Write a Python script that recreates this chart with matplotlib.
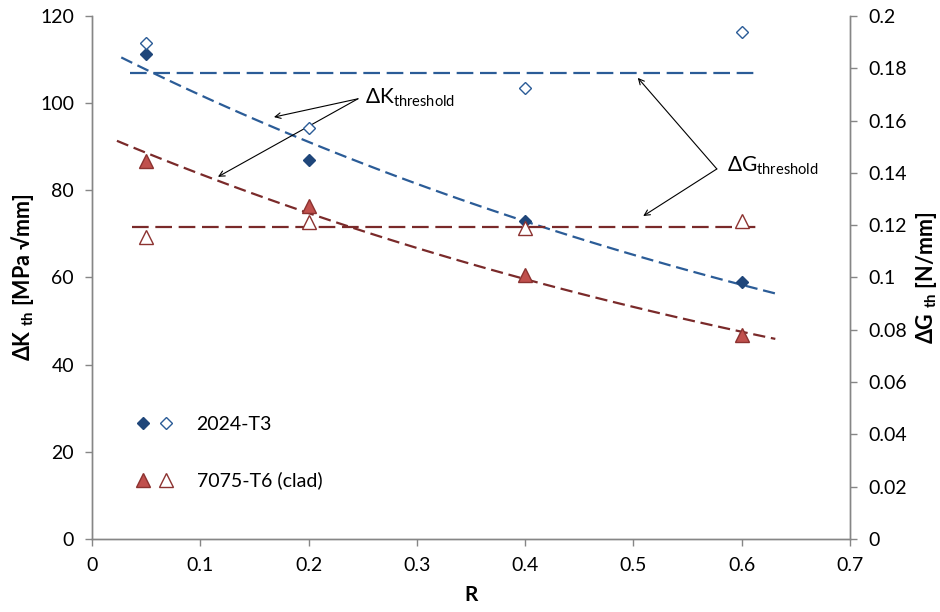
import numpy as np
import matplotlib
matplotlib.use('Agg')
import matplotlib.pyplot as plt
from matplotlib.lines import Line2D
from matplotlib.legend_handler import HandlerTuple
from matplotlib.ticker import FuncFormatter

plt.rcParams['font.family'] = ['Lato', 'DejaVu Sans']
plt.rcParams['mathtext.fontset'] = 'custom'
plt.rcParams['mathtext.rm'] = 'Lato'
plt.rcParams['mathtext.bf'] = 'Lato:bold'
plt.rcParams['mathtext.it'] = 'Lato:italic'

# --- data ---
R = [0.05, 0.2, 0.4, 0.6]
dK_2024 = [111.3, 87.0, 73.0, 59.0]          # filled diamonds, left axis
dG_2024 = [0.1897, 0.157, 0.1725, 0.1937]    # open diamonds, right axis
dK_7075 = [86.8, 76.3, 60.6, 46.8]           # filled triangles, left axis
dG_7075 = [0.1156, 0.1213, 0.1188, 0.1217]   # open triangles, right axis

x_ticks = [0, 0.1, 0.2, 0.3, 0.4, 0.5, 0.6, 0.7]
k_ticks = [0, 20, 40, 60, 80, 100, 120]
g_ticks = [0, 0.02, 0.04, 0.06, 0.08, 0.1, 0.12, 0.14, 0.16, 0.18, 0.2]

# colours
blue_fill = '#1F467A'
blue_line = '#2B5C97'
red_fill = '#C0504D'
red_edge = '#8C3230'
red_line = '#7A2A2A'
grey = '#868686'

# --- trendlines (Excel style) ---
def exp_trend(x, y, x0, x1):
    b, a = np.polyfit(x, np.log(y), 1)
    xx = np.linspace(x0, x1, 100)
    return xx, np.exp(a + b * xx)

def flat_trend(x, y, x0, x1):
    c = np.polyfit(x, y, 0)[0]
    return [x0, x1], [c, c]

fig = plt.figure(figsize=(9.4, 6.12), dpi=100)
ax = fig.add_axes([0.0979, 0.1193, 0.8064, 0.8546])
ax2 = ax.twinx()

fs = 14

# decreasing dK trendlines
xx, yy = exp_trend(R, dK_2024, 0.027, 0.633)
ax.plot(xx, yy, color=blue_line, lw=1.6, dashes=(5.5, 2.6))
xx, yy = exp_trend(R, dK_7075, 0.023, 0.631)
ax.plot(xx, yy, color=red_line, lw=1.6, dashes=(5.5, 2.6))

# filled markers
ax.plot(R, dK_2024, ls='none', marker='D', ms=6.6, mfc=blue_fill, mec=blue_fill, mew=1, zorder=5)
ax.plot(R, dK_7075, ls='none', marker='^', ms=9.5, mfc=red_fill, mec=red_edge, mew=1, zorder=5)

# flat dG trendlines
xx, yy = flat_trend(R, dG_2024, 0.035, 0.615)
ax2.plot(xx, yy, color=blue_line, lw=1.6, dashes=(7.5, 3))
xx, yy = flat_trend(R, dG_7075, 0.037, 0.616)
ax2.plot(xx, yy, color=red_line, lw=1.6, dashes=(7.5, 3))

# open markers
ax2.plot(R, dG_2024, ls='none', marker='D', ms=6.6, mfc='white', mec=blue_line, mew=1, zorder=5)
ax2.plot(R, dG_7075, ls='none', marker='^', ms=9.5, mfc='white', mec=red_edge, mew=1, zorder=5)

ax.set_xlim(0, 0.7)
ax.set_ylim(0, 120)
ax2.set_ylim(0, 0.2)
ax.set_xticks(x_ticks)
ax.set_yticks(k_ticks)
ax2.set_yticks(g_ticks)
fmt = FuncFormatter(lambda v, p: '%g' % round(v, 4))
ax.xaxis.set_major_formatter(fmt)
ax.yaxis.set_major_formatter(fmt)
ax2.yaxis.set_major_formatter(fmt)

for a in (ax, ax2):
    a.spines['top'].set_visible(False)
    for s in ('left', 'right', 'bottom'):
        a.spines[s].set_color(grey)
        a.spines[s].set_linewidth(1)
    a.tick_params(colors=grey, labelcolor='black', labelsize=fs, length=5, width=1, direction='out')
ax.tick_params(axis='y', pad=8)
ax.tick_params(axis='x', pad=8)
ax2.tick_params(axis='y', pad=8)

ax.set_xlabel('R', fontsize=15, fontweight='bold', labelpad=8)
ax.set_ylabel(r'ΔK $_{\mathbf{th}}$ [MPa √mm]', fontsize=15.5, fontweight='bold', labelpad=3)
ax2.set_ylabel(r'ΔG $_{\mathbf{th}}$ [N/mm]', fontsize=15.5, fontweight='bold', rotation=90, labelpad=5)

# annotations
arrow = dict(arrowstyle='->', color='black', lw=0.8, shrinkA=0, shrinkB=0)
ax.annotate('', xy=(0.168, 96.8), xytext=(0.2456, 101.0), arrowprops=arrow)
ax.annotate('', xy=(0.1163, 83.1), xytext=(0.2456, 101.0), arrowprops=arrow)
ax.text(0.252, 101.3, r'ΔK$_{\rm threshold}$', fontsize=15, va='center', ha='left')
ax.annotate('', xy=(0.504, 105.8), xytext=(0.577, 84.9), arrowprops=arrow)
ax.annotate('', xy=(0.509, 74.1), xytext=(0.577, 84.9), arrowprops=arrow)
ax.text(0.586, 85.5, r'ΔG$_{\rm threshold}$', fontsize=15, va='center', ha='left')

# legend
h1 = (Line2D([], [], ls='none', marker='D', ms=6.6, mfc=blue_fill, mec=blue_fill),
      Line2D([], [], ls='none', marker='D', ms=6.6, mfc='white', mec=blue_line))
h2 = (Line2D([], [], ls='none', marker='^', ms=9.5, mfc=red_fill, mec=red_edge),
      Line2D([], [], ls='none', marker='^', ms=9.5, mfc='white', mec=red_edge))
ax.legend([h1, h2], ['2024-T3', '7075-T6 (clad)'], handler_map={tuple: HandlerTuple(ndivide=None, pad=0.15)},
          loc='upper left', bbox_to_anchor=(0.054, 0.235), borderaxespad=0, borderpad=0,
          frameon=False, fontsize=14, handlelength=2.2, handletextpad=1.07, labelspacing=1.98)

fig.savefig('out.png', dpi=100)
